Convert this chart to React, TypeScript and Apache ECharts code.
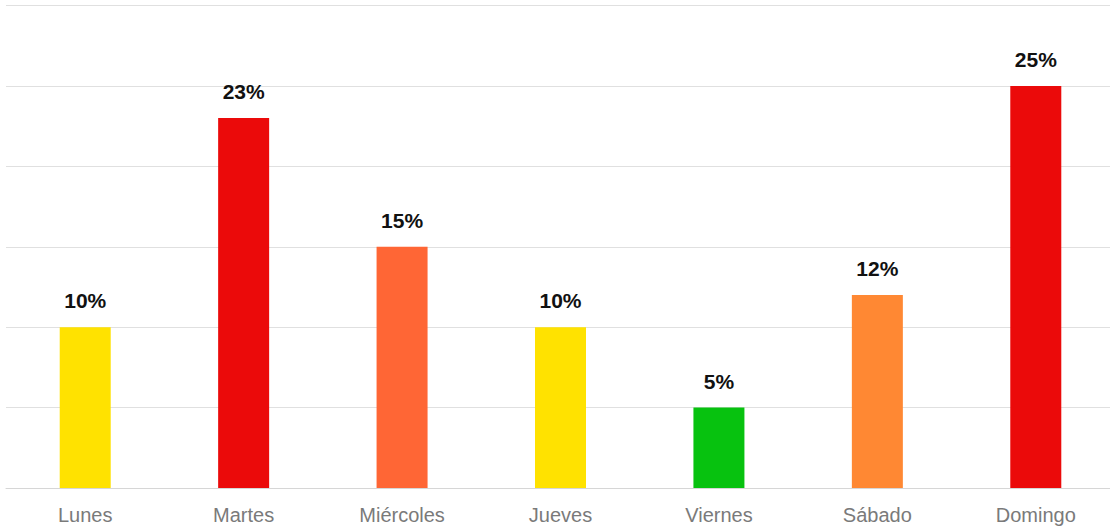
import React, { useEffect, useRef } from "react";
import * as echarts from "echarts";

const categories = ["Lunes", "Martes", "Miércoles", "Jueves", "Viernes", "Sábado", "Domingo"];
const values = [10, 23, 15, 10, 5, 12, 25];
const barColors = ["#FFE200", "#EB0A0A", "#FF6635", "#FFE200", "#07C20F", "#FF8833", "#EB0A0A"];
const yTicks = { min: 0, max: 30, interval: 5 };

export default function App() {
  const ref = useRef<HTMLDivElement>(null);
  useEffect(() => {
    if (!ref.current) return;
    const chart = echarts.init(ref.current, undefined, { renderer: "svg" });
    chart.setOption({
      animation: false,
      grid: { left: 6, right: 1, top: 5.5, bottom: 43, containLabel: false },
      xAxis: {
        type: "category",
        data: categories,
        axisTick: { show: false },
        axisLine: { lineStyle: { color: "#d6d6d6", width: 1 } },
        axisLabel: {
          color: "#7a7a7a",
          fontSize: 20,
          fontFamily: "'Liberation Sans', Arial, sans-serif",
          margin: 17,
        },
      },
      yAxis: {
        type: "value",
        min: yTicks.min,
        max: yTicks.max,
        interval: yTicks.interval,
        axisLabel: { show: false },
        axisLine: { show: false },
        axisTick: { show: false },
        splitLine: { lineStyle: { color: "#e0e0e0", width: 1 } },
      },
      series: [
        {
          type: "bar",
          barWidth: 51,
          data: values.map((v, i) => ({ value: v, itemStyle: { color: barColors[i] } })),
          label: {
            show: true,
            position: "top",
            distance: 16,
            formatter: "{c}%",
            color: "#111111",
            fontWeight: "bold",
            fontSize: 21,
            fontFamily: "'Liberation Sans', Arial, sans-serif",
          },
        },
      ],
    });
    return () => chart.dispose();
  }, []);
  return (
    <div style={{ position: "fixed", left: 0, top: 0, width: 1110, height: 531, overflow: "hidden", background: "#fff" }}>
      <div ref={ref} style={{ width: 1116, height: 531 }} />
    </div>
  );
}
